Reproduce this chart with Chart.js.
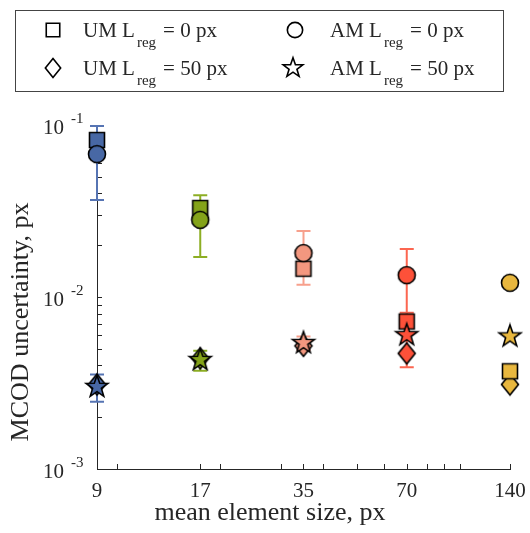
<!DOCTYPE html>
<html>
<head>
<meta charset="utf-8">
<script src="https://cdn.jsdelivr.net/npm/chart.js@4"></script>
<style>
  body { margin: 0; background: #fff; }
</style>
</head>
<body>
<canvas id="mcodChart" width="530" height="533"></canvas>
<script>
// mean element size (px) and the labels MATLAB printed for them
const sizes = [8.75, 17.5, 35, 70, 140];
const sizeLabels = ['9', '17', '35', '70', '140'];

// MCOD uncertainty, px
const umReg0 = [0.0818, 0.0329, 0.0146, 0.0072, 0.0037];
const amReg0 = [0.0677, 0.0281, 0.0180, 0.0134, 0.0121];
const umReg50 = [0.0031, 0.0044, 0.0052, 0.0047, 0.0031];
const amReg50 = [0.0030, 0.0043, 0.0054, 0.0060, 0.0059];
const amReg0Err = [0.031, 0.011, 0.0062, 0.0056, null];
const amReg50Err = [0.00054, 0.00057, 0.0005, 0.0021, null];

const yMajorTicks = [0.001, 0.01, 0.1];
const yTickExps = ['-3', '-2', '-1'];

const groupColors = ['#4868a5', '#84a31a', '#f3977f', '#fd5139', '#e8b73e'];
const barColors = ['#5674b3', '#8dae24', '#f7a08c', '#fc6650', '#e8b73e'];
const ink = '#262626';
const serif = '"Liberation Serif", "Times New Roman", serif';

function marker(shape, fill, k) {
  k = k || 1;
  const c = document.createElement('canvas');
  c.width = 28; c.height = 28;
  const g = c.getContext('2d');
  g.translate(14, 14);
  g.scale(k, k);
  g.beginPath();
  if (shape === 'square') {
    g.rect(-7.5, -7.5, 15, 15);
  } else if (shape === 'circle') {
    g.arc(0, 0, 8.5, 0, Math.PI * 2);
  } else if (shape === 'diamond') {
    g.moveTo(0, -10.5); g.lineTo(8.5, 0); g.lineTo(0, 10.5); g.lineTo(-8.5, 0);
    g.closePath();
  } else {
    for (let i = 0; i < 10; i++) {
      const r = i % 2 ? 4.6 : 11.5;
      const a = -Math.PI / 2 + i * Math.PI / 5;
      g.lineTo(r * Math.cos(a), r * Math.sin(a));
    }
    g.closePath();
  }
  g.fillStyle = fill;
  g.fill();
  g.lineWidth = 1.6 / k;
  g.strokeStyle = '#000';
  g.stroke();
  return c;
}

// drawn top to bottom: star, circle, square, diamond
const series = [
  { label: 'AM Lreg = 50 px', values: amReg50, shape: 'star' },
  { label: 'AM Lreg = 0 px', values: amReg0, shape: 'circle' },
  { label: 'UM Lreg = 0 px', values: umReg0, shape: 'square' },
  { label: 'UM Lreg = 50 px', values: umReg50, shape: 'diamond' }
];

const legendItems = [
  { shape: 'square', pre: 'UM L', post: '= 0 px', mx: 53, tx: 83, y: 30 },
  { shape: 'circle', pre: 'AM L', post: '= 0 px', mx: 295, tx: 330, y: 30 },
  { shape: 'diamond', pre: 'UM L', post: '= 50 px', mx: 53, tx: 83, y: 68 },
  { shape: 'star', pre: 'AM L', post: '= 50 px', mx: 293, tx: 330, y: 68 }
];

const errorBars = {
  id: 'errorBars',
  beforeDatasetsDraw(chart) {
    const { ctx, chartArea, scales: { x, y } } = chart;
    ctx.save();
    // inward tick marks
    ctx.strokeStyle = ink;
    ctx.lineWidth = 1;
    ctx.beginPath();
    y.ticks.forEach(t => {
      const py = Math.round(y.getPixelForValue(t.value)) + 0.5;
      ctx.moveTo(chartArea.left, py); ctx.lineTo(chartArea.left + 5, py);
    });
    x.ticks.forEach(t => {
      const px = Math.round(x.getPixelForValue(t.value)) + 0.5;
      ctx.moveTo(px, chartArea.bottom); ctx.lineTo(px, chartArea.bottom - 5);
    });
    ctx.stroke();

    ctx.lineWidth = 2;
    [[amReg0, amReg0Err], [amReg50, amReg50Err]].forEach(([vals, errs]) => {
      sizes.forEach((s, i) => {
        if (errs[i] == null) return;
        const px = x.getPixelForValue(s);
        const top = y.getPixelForValue(vals[i] + errs[i]);
        const bot = y.getPixelForValue(vals[i] - errs[i]);
        ctx.strokeStyle = barColors[i];
        ctx.beginPath();
        ctx.moveTo(px, top); ctx.lineTo(px, bot);
        ctx.moveTo(px - 7, top); ctx.lineTo(px + 7, top);
        ctx.moveTo(px - 7, bot); ctx.lineTo(px + 7, bot);
        ctx.stroke();
      });
    });
    ctx.restore();
  }
};

const decorations = {
  id: 'decorations',
  afterDraw(chart) {
    const { ctx, scales: { y } } = chart;
    ctx.save();
    ctx.fillStyle = ink;

    // y tick labels 10^n
    yMajorTicks.forEach((v, i) => {
      const py = y.getPixelForValue(v);
      ctx.font = '21px ' + serif;
      ctx.textAlign = 'right';
      ctx.textBaseline = 'middle';
      ctx.fillText('10', 64, py + 3);
      ctx.font = '15px ' + serif;
      ctx.textAlign = 'left';
      ctx.fillText(yTickExps[i], 71, py - 6);
    });

    // axis titles
    ctx.font = '26px ' + serif;
    ctx.textAlign = 'center';
    ctx.textBaseline = 'alphabetic';
    ctx.fillText('mean element size, px', 270, 520);
    ctx.save();
    ctx.translate(28, 322);
    ctx.rotate(-Math.PI / 2);
    ctx.fillText('MCOD uncertainty, px', 0, 0);
    ctx.restore();

    // legend
    ctx.strokeStyle = '#444';
    ctx.lineWidth = 1;
    ctx.strokeRect(15.5, 10.5, 488, 81);
    legendItems.forEach(it => {
      const m = marker(it.shape, '#fff', 0.9);
      ctx.drawImage(m, it.mx - 14, it.y - 14);
      ctx.textAlign = 'left';
      ctx.textBaseline = 'alphabetic';
      ctx.font = '21px ' + serif;
      let tx = it.tx;
      ctx.fillText(it.pre, tx, it.y + 7);
      tx += ctx.measureText(it.pre).width + 2;
      ctx.font = '15px ' + serif;
      ctx.fillText('reg', tx, it.y + 17);
      tx += ctx.measureText('reg').width + 7;
      ctx.font = '21px ' + serif;
      ctx.fillText(it.post, tx, it.y + 7);
    });
    ctx.restore();
  }
};

new Chart(document.getElementById('mcodChart'), {
  type: 'scatter',
  data: {
    datasets: series.map((s, k) => ({
      label: s.label,
      data: sizes.map((x, i) => ({ x: x, y: s.values[i] })),
      pointStyle: groupColors.map(c => marker(s.shape, c)),
      pointRadius: 9,
      pointHoverRadius: 9,
      showLine: false,
      clip: false,
      order: k
    }))
  },
  options: {
    responsive: false,
    animation: false,
    layout: { padding: { top: 125, left: 0, right: 20, bottom: 0 } },
    plugins: { legend: { display: false }, tooltip: { enabled: false } },
    scales: {
      x: {
        type: 'logarithmic',
        min: 8.75,
        max: 140,
        bounds: 'data',
        grid: { display: false },
        border: { display: true, color: ink, width: 1 },
        afterBuildTicks(scale) {
          const vals = [8.75, 10, 17.5, 20, 30, 35, 40, 50, 60, 70, 80, 90, 100, 140];
          scale.ticks = vals.map(v => ({ value: v }));
        },
        afterFit(scale) { scale.height = 64; },
        ticks: {
          autoSkip: false,
          maxRotation: 0,
          padding: 2,
          color: ink,
          font: { family: serif, size: 21 },
          callback(value) {
            const i = sizes.indexOf(value);
            return i >= 0 ? sizeLabels[i] : '';
          }
        }
      },
      y: {
        type: 'logarithmic',
        min: 0.001,
        max: 0.1,
        bounds: 'data',
        grid: { display: false },
        border: { display: true, color: ink, width: 1 },
        afterBuildTicks(scale) {
          const vals = [];
          [0.001, 0.01].forEach(d => {
            for (let m = 1; m < 10; m++) vals.push(+(m * d).toPrecision(3));
          });
          vals.push(0.1);
          scale.ticks = vals.map(v => ({ value: v }));
        },
        afterFit(scale) { scale.width = 97; },
        ticks: { display: false }
      }
    }
  },
  plugins: [errorBars, decorations]
});
</script>
</body>
</html>
